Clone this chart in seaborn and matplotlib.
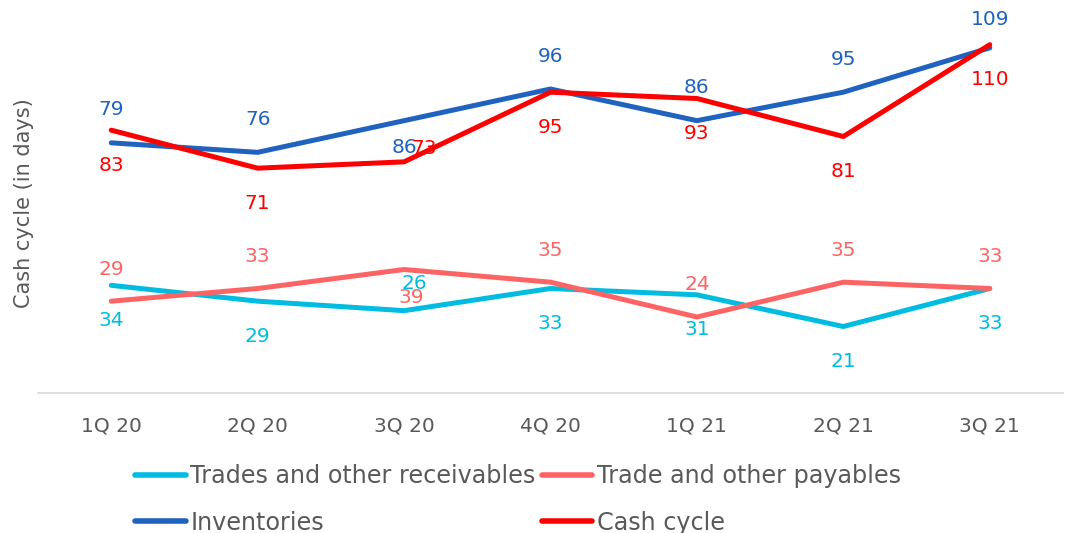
import pandas as pd
import seaborn as sns
import matplotlib.pyplot as plt

# 数据（从图上读出的标签值）
quarters = ["1Q 20", "2Q 20", "3Q 20", "4Q 20", "1Q 21", "2Q 21", "3Q 21"]
receivables = [34, 29, 26, 33, 31, 21, 33]
payables = [29, 33, 39, 35, 24, 35, 33]
inventories = [79, 76, 86, 96, 86, 95, 109]
cash_cycle = [83, 71, 73, 95, 93, 81, 110]

series_names = ["Trades and other receivables", "Trade and other payables",
                "Inventories", "Cash cycle"]
series_values = [receivables, payables, inventories, cash_cycle]
colors = {"Trades and other receivables": "#00BCE0",
          "Trade and other payables": "#FF6464",
          "Inventories": "#1F63BE",
          "Cash cycle": "#FF0000"}

rows = []
for name, vals in zip(series_names, series_values):
    for i, v in enumerate(vals):
        rows.append({"quarter": quarters[i], "idx": i, "series": name, "days": v})
df = pd.DataFrame(rows)

sns.set_style("white")
plt.rcParams['font.family'] = ['DejaVu Sans']
grey = "#595959"

fig = plt.figure(figsize=(10.65, 5.33), dpi=100)
ax = fig.add_axes([38 / 1065, 1 - 393 / 533, 1025 / 1065, 380 / 533])

sns.lineplot(data=df, x="idx", y="days", hue="series", hue_order=series_names,
             palette=colors, linewidth=3.6, ax=ax, legend=False,
             solid_capstyle="round", solid_joinstyle="round")

# 标签偏移（像素）：默认位置，个别点单独处理
default_off = {"Trades and other receivables": (0, -35),
               "Trade and other payables": (0, 32),
               "Inventories": (0, 33),
               "Cash cycle": (0, -35)}
special_off = {("Trades and other receivables", 2): (10, 27),
               ("Trade and other payables", 2): (7, -28),
               ("Inventories", 2): (0, -27),
               ("Cash cycle", 2): (20, 13),
               ("Inventories", 6): (0, 28)}
px2pt = 72 / 100
for name, vals in zip(series_names, series_values):
    for i, v in enumerate(vals):
        dx, dy = special_off.get((name, i), default_off[name])
        ax.annotate(str(v), (i, v), xytext=(dx * px2pt, dy * px2pt),
                    textcoords="offset points", ha="center", va="center",
                    color=colors[name], fontsize=14.5)

ax.set_xlim(-0.5, 6.5)
ax.set_ylim(0, 120)
ax.set_xticks(range(len(quarters)))
ax.set_xticklabels(quarters, color=grey, fontsize=14.5)
ax.set_yticks([])
ax.set_xlabel("")
ax.set_ylabel("Cash cycle (in days)", color=grey, fontsize=15, labelpad=3)
for s in ["top", "right", "left"]:
    ax.spines[s].set_visible(False)
ax.spines["bottom"].set_color("#D9D9D9")
ax.spines["bottom"].set_linewidth(1.2)
ax.tick_params(axis="x", length=0, pad=17)

# 图例：两行两列
handles = [plt.Line2D([], [], color=colors[n], linewidth=4, solid_capstyle="round")
           for n in series_names]
order = [0, 2, 1, 3]
leg = fig.legend([handles[k] for k in order], [series_names[k] for k in order],
                 ncol=2, loc="upper center", bbox_to_anchor=(518 / 1065, 1 - 464 / 533),
                 frameon=False, fontsize=17.2, handlelength=2.1, handletextpad=0.2,
                 columnspacing=0.25, labelspacing=0.95, borderaxespad=0,
                 borderpad=0)
for t in leg.get_texts():
    t.set_color(grey)

plt.savefig("out.png", dpi=100)
